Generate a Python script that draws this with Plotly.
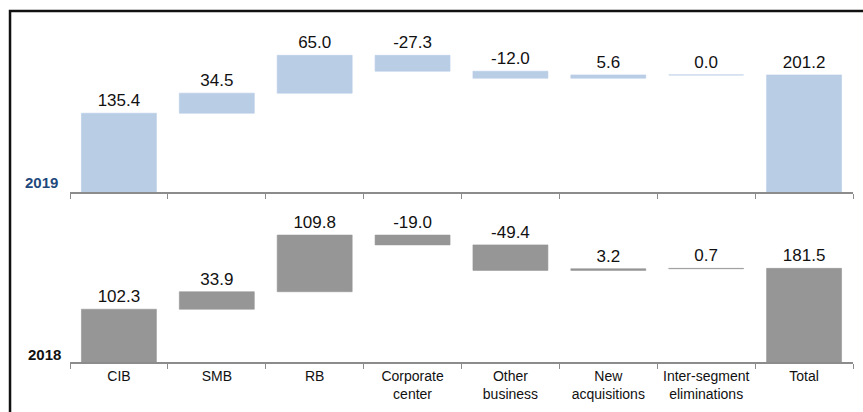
import plotly.graph_objects as go

categories = ["CIB", "SMB", "RB", "Corporate<br>center", "Other<br>business",
              "New<br>acquisitions", "Inter-segment<br>eliminations", "Total"]
values_2019 = [135.4, 34.5, 65.0, -27.3, -12.0, 5.6, 0.0, 201.2]
values_2018 = [102.3, 33.9, 109.8, -19.0, -49.4, 3.2, 0.7, 181.5]
is_total = [False, False, False, False, False, False, False, True]

COLOR_2019 = "#b9cde5"
COLOR_2018 = "#969696"
FONT = "Liberation Sans, Arial, sans-serif"


def waterfall_parts(values, totals):
    bases, heights = [], []
    running = 0.0
    for v, t in zip(values, totals):
        if t:
            bases.append(0.0)
            heights.append(v)
        else:
            start = running
            end = running + v
            bases.append(min(start, end))
            heights.append(abs(v))
            running = end
    return bases, heights


b19, h19 = waterfall_parts(values_2019, is_total)
b18, h18 = waterfall_parts(values_2018, is_total)

fig = go.Figure()
fig.add_trace(go.Bar(
    x=categories, y=h19, base=b19, xaxis="x2", yaxis="y2",
    marker=dict(color=COLOR_2019, line=dict(color=COLOR_2019, width=0.6)),
    text=[f"{v:.1f}" for v in values_2019], textposition="outside",
    textfont=dict(family=FONT, size=17, color="#111111"),
    constraintext="none", cliponaxis=False, hoverinfo="skip",
))
fig.add_trace(go.Bar(
    x=categories, y=h18, base=b18, xaxis="x", yaxis="y",
    marker=dict(color=COLOR_2018, line=dict(color=COLOR_2018, width=0.6)),
    text=[f"{v:.1f}" for v in values_2018], textposition="outside",
    textfont=dict(family=FONT, size=17, color="#111111"),
    constraintext="none", cliponaxis=False, hoverinfo="skip",
))

axis_common = dict(
    type="category", showline=True, linecolor="#8c8c8c", linewidth=2,
    ticks="outside", tickson="boundaries", ticklen=5, tickcolor="#8c8c8c",
    tickwidth=1, showgrid=False, zeroline=False, fixedrange=True,
)

fig.update_layout(
    width=863, height=412,
    margin=dict(l=70, r=10, t=0, b=50),
    paper_bgcolor="white", plot_bgcolor="white",
    showlegend=False, bargap=0.234,
    font=dict(family=FONT, size=14, color="#111111"),
    xaxis=dict(**axis_common, anchor="y",
               tickfont=dict(family=FONT, size=14, color="#111111")),
    xaxis2=dict(**axis_common, anchor="y2", matches="x", showticklabels=False),
    yaxis=dict(domain=[0, 0.4475], range=[0, 314], visible=False, fixedrange=True),
    yaxis2=dict(domain=[0.4696, 1], range=[0, 330], visible=False, fixedrange=True),
    annotations=[
        dict(text="<b>2019</b>", xref="paper", yref="y2 domain", x=-0.0128, y=0.0,
             xanchor="right", yanchor="bottom", showarrow=False, yshift=-1,
             font=dict(family=FONT, size=15, color="#1f497d")),
        dict(text="<b>2018</b>", xref="paper", yref="y domain", x=-0.0089, y=0.0,
             xanchor="right", yanchor="bottom", showarrow=False, yshift=-3,
             font=dict(family=FONT, size=15, color="#111111")),
    ],
    shapes=[
        dict(type="rect", xref="paper", yref="paper",
             x0=-0.0766, x1=1.03, y0=-0.2, y1=0.9696,
             line=dict(color="#111111", width=2.5), fillcolor="rgba(0,0,0,0)",
             layer="above"),
    ],
)

fig.write_html("out.html")
